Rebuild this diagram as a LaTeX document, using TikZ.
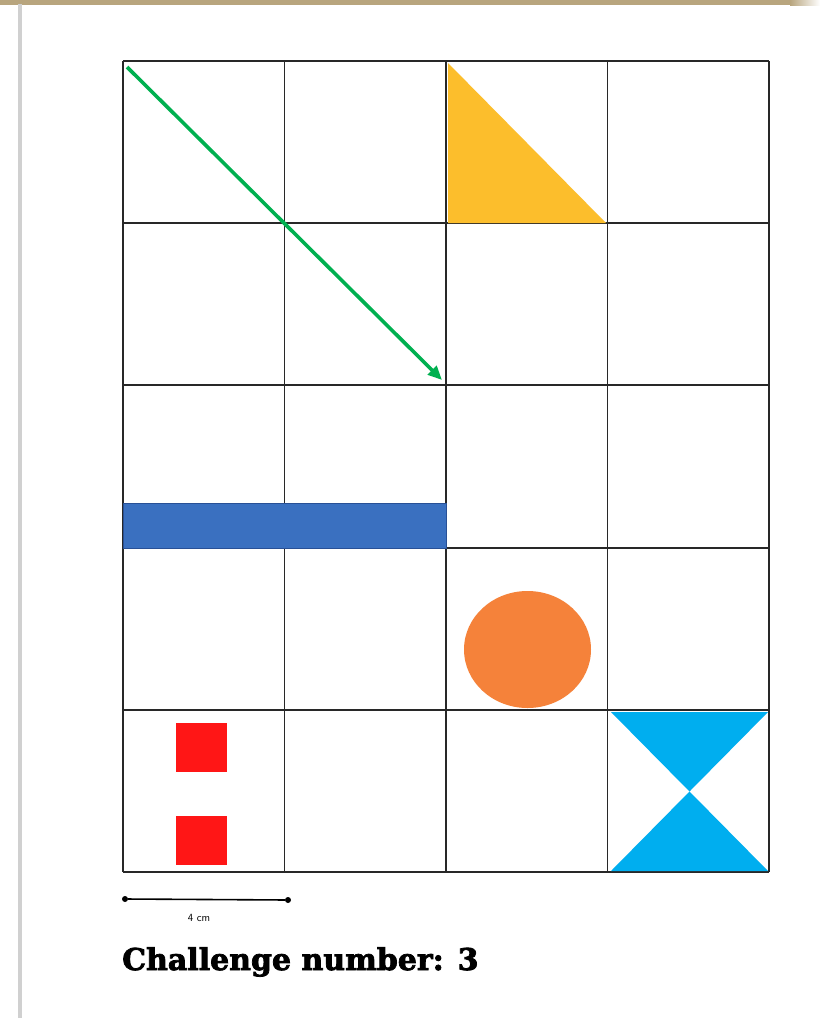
\documentclass[tikz,border=0pt]{standalone}
\usepackage{fontspec}
\usepackage{tikz}
\usetikzlibrary{arrows.meta,positioning,calc}
\newfontfamily\titlefont{DejaVu Serif}[BoldFont={* Bold}, BoldFeatures={FakeBold=2.5}]
\definecolor{bandtan}{RGB}{184,165,126}
\definecolor{edgegray}{RGB}{208,208,208}
\definecolor{gridgray}{RGB}{40,40,40}
\definecolor{triyellow}{RGB}{252,190,44}
\definecolor{barblue}{RGB}{58,112,192}
\definecolor{baredge}{RGB}{40,80,150}
\definecolor{dotorange}{RGB}{245,130,58}
\definecolor{sqred}{RGB}{255,22,22}
\definecolor{glasscyan}{RGB}{0,174,239}
\definecolor{pathgreen}{RGB}{0,176,80}

\begin{document}
\begin{tikzpicture}[
    x=1pt, y=-1pt,
    gridline/.style={draw=gridgray, line width=1.9pt},
    pathline/.style={draw=pathgreen, line width=3.6pt, -{Triangle[length=14pt,width=12pt]}},
    scaledot/.style={circle, fill=black, inner sep=0pt, minimum size=6pt},
    label/.style={font=\sffamily\fontsize{11}{12}\selectfont, inner sep=1pt}
]
    \useasboundingbox (0,0) rectangle (820,1018);
    \fill[white] (0,0) rectangle (820,1018);
    % page frame
    \fill[bandtan] (0,0) rectangle (790,5);
    \shade[left color=bandtan, right color=white] (790,0) rectangle (820,5);
    \fill[edgegray] (18,4) rectangle (22,1018);

    % grid
    \foreach \i in {0,...,4}
        \draw[gridline] (123+161.5*\i,61) -- ++(0,811);
    \foreach \j in {0,...,5}
        \draw[gridline] (123,61+162.2*\j) -- ++(646,0);

    % shapes
    \fill[triyellow] (448,63) -- (448,223) -- (606,223) -- cycle;
    \filldraw[fill=barblue, draw=baredge, line width=1pt] (123,503) rectangle (446,548);
    \fill[dotorange] (527.5,649.5) ellipse [x radius=63.5, y radius=58.5];
    \fill[sqred] (176,723) rectangle (227,772);
    \fill[sqred] (176,816) rectangle (227,865);
    \fill[glasscyan] (611,712) -- (768,712) -- (689.5,791.5) -- cycle;
    \fill[glasscyan] (611,871) -- (768,871) -- (689.5,791.5) -- cycle;

    % path
    \coordinate (start) at (127,67);
    \coordinate (finish) at (442,380);
    \draw[pathline] (start) -- (finish);

    % scale bar
    \node[scaledot] (barleft) at (125,899) {};
    \node[scaledot] (barright) at (288,900) {};
    \draw[line width=1.6pt] (barleft) -- (barright);
    \node[label] (barlabel) at (199,918) {4 cm};

    \node[anchor=base west, inner sep=0pt, font=\titlefont\bfseries\fontsize{30}{33}\selectfont] (title) at (122,970) {Challenge number: 3};
\end{tikzpicture}
\end{document}
